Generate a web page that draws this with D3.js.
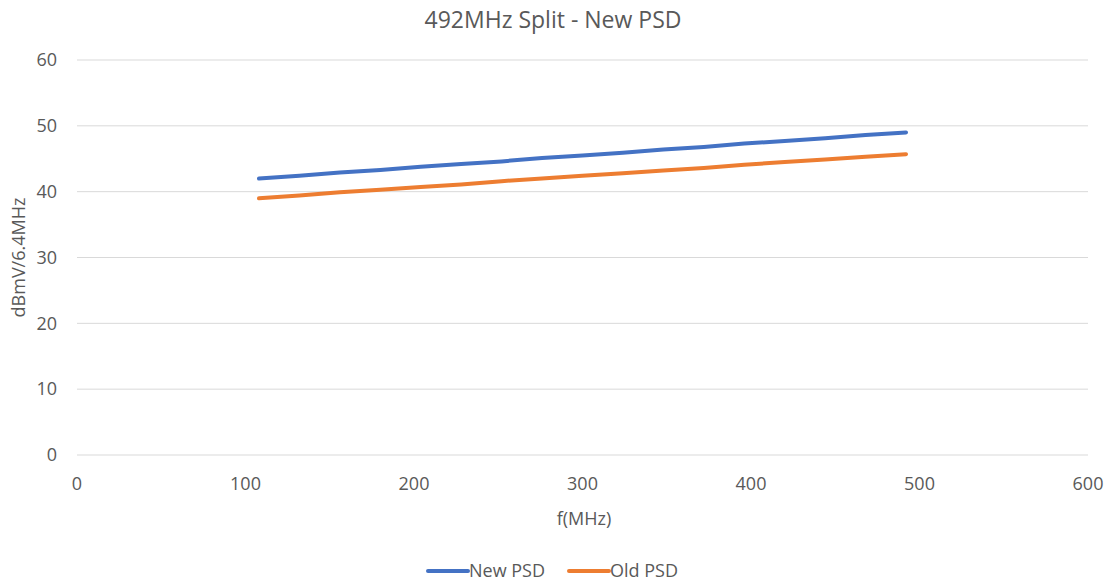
<!DOCTYPE html>
<html>
<head>
<meta charset="utf-8">
<script src="https://cdn.jsdelivr.net/npm/d3@7"></script>
<style>
  body { margin: 0; background: #fff; }
  text { font-family: "Open Sans", "Noto Sans", sans-serif; fill: #595959; }
</style>
</head>
<body>
<div id="chart"></div>
<script>
// frequencies (MHz)
const freqs = [108, 132, 156, 180, 204, 228, 252, 276, 300, 324, 348, 372, 396, 420, 444, 468, 492];
const newPsd = [42.0, 42.4, 42.9, 43.3, 43.8, 44.2, 44.6, 45.1, 45.5, 45.9, 46.4, 46.8, 47.3, 47.7, 48.1, 48.6, 49.0];
const oldPsd = [39.0, 39.4, 39.9, 40.3, 40.7, 41.1, 41.6, 42.0, 42.4, 42.8, 43.2, 43.6, 44.1, 44.5, 44.9, 45.3, 45.7];
const xTicks = [0, 100, 200, 300, 400, 500, 600];
const yTicks = [0, 10, 20, 30, 40, 50, 60];
const seriesNames = ["New PSD", "Old PSD"];
const colors = ["#4472C4", "#ED7D31"];

const width = 1107, height = 582;
const margin = {left: 77, right: 19, top: 60, bottom: 127};

const svg = d3.select("#chart").append("svg")
    .attr("width", width)
    .attr("height", height);

const x = d3.scaleLinear().domain([0, 600]).range([margin.left, width - margin.right]);
const y = d3.scaleLinear().domain([0, 60]).range([height - margin.bottom, margin.top]);

// gridlines
svg.selectAll(".grid")
    .data(yTicks)
    .enter().append("line")
    .attr("x1", x(0)).attr("x2", x(600))
    .attr("y1", d => y(d)).attr("y2", d => y(d))
    .attr("stroke", "#d9d9d9")
    .attr("stroke-width", 1);

// y tick labels
svg.selectAll(".ylab")
    .data(yTicks)
    .enter().append("text")
    .attr("x", 57)
    .attr("y", d => y(d))
    .attr("dy", "0.35em")
    .attr("text-anchor", "end")
    .style("font-size", "18px")
    .text(d => d);

// x tick labels
svg.selectAll(".xlab")
    .data(xTicks)
    .enter().append("text")
    .attr("x", d => x(d))
    .attr("y", 490)
    .attr("text-anchor", "middle")
    .style("font-size", "18px")
    .text(d => d);

// title
svg.append("text")
    .attr("x", 553)
    .attr("y", 28)
    .attr("text-anchor", "middle")
    .style("font-size", "23px")
    .text("492MHz Split - New PSD");

// axis titles
svg.append("text")
    .attr("x", 584)
    .attr("y", 525)
    .attr("text-anchor", "middle")
    .style("font-size", "18px")
    .text("f(MHz)");

svg.append("text")
    .attr("transform", "translate(25," + y(30) + ") rotate(-90)")
    .attr("text-anchor", "middle")
    .style("font-size", "18px")
    .text("dBmV/6.4MHz");

// lines
const line = d3.line()
    .x((d, i) => x(freqs[i]))
    .y(d => y(d));

[newPsd, oldPsd].forEach((vals, k) => {
    svg.append("path")
        .datum(vals)
        .attr("d", line)
        .attr("fill", "none")
        .attr("stroke", colors[k])
        .attr("stroke-width", 4)
        .attr("stroke-linecap", "round")
        .attr("stroke-linejoin", "round");
});

// legend
const legendX = [428, 569];
seriesNames.forEach((name, k) => {
    const g = svg.append("g").attr("transform", "translate(" + legendX[k] + ",571)");
    g.append("line")
        .attr("x1", 0).attr("x2", 40)
        .attr("stroke", colors[k])
        .attr("stroke-width", 4)
        .attr("stroke-linecap", "round");
    g.append("text")
        .attr("x", 41)
        .attr("dy", "0.35em")
        .style("font-size", "18px")
        .text(name);
});
</script>
</body>
</html>
